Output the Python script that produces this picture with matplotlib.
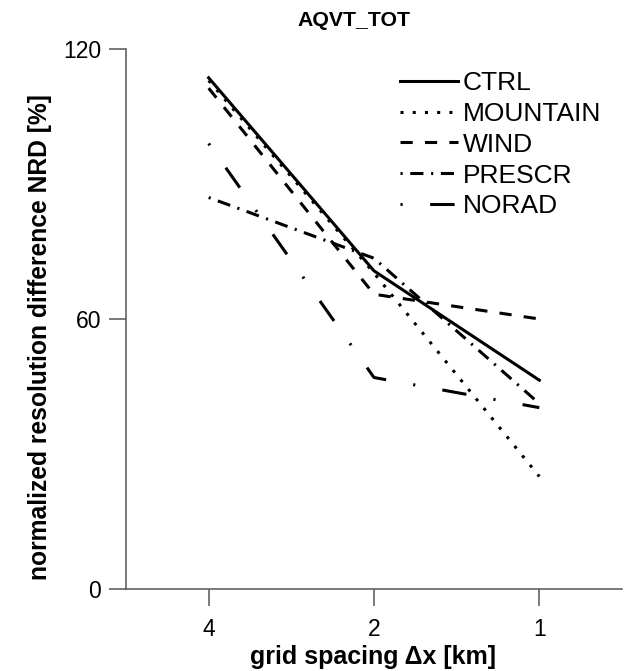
import matplotlib
matplotlib.use('Agg')
from matplotlib import pyplot as plt

plt.rcParams['font.family'] = ['Liberation Sans', 'DejaVu Sans']

grid_dx = [4, 2, 1]
tick_labels = ['4', '2', '1']
y_ticks = [0, 60, 120]

ctrl = [113.6, 70.7, 46.4]
mountain = [113.0, 70.2, 25.0]
wind = [111.3, 65.5, 60.0]
prescr = [87.0, 73.5, 41.2]
norad = [99.0, 47.0, 40.3]

series = [
    ('CTRL', ctrl, '-'),
    ('MOUNTAIN', mountain, (0, (1, 3))),
    ('WIND', wind, (0, (4, 4))),
    ('PRESCR', prescr, (0, (0.7, 2.5, 4.3, 2.5))),
    ('NORAD', norad, (0, (0.7, 9, 8, 9))),
]

fig = plt.figure(figsize=(6.27, 6.71), dpi=100)
ax = fig.add_axes([126 / 627, 1 - 589 / 671, 496 / 627, 540 / 671])

for name, vals, ls in series:
    ax.plot(grid_dx, vals, color='black', lw=2.2, linestyle=ls,
            dash_capstyle='butt', label=name)

ax.set_xscale('log', base=2)
ax.set_xlim(4 * 2 ** 0.5, 2 ** -0.5)
ax.set_ylim(0, 120)
ax.set_xticks(grid_dx)
ax.set_xticklabels(tick_labels)
ax.minorticks_off()
ax.set_yticks(y_ticks)

for side in ['top', 'right']:
    ax.spines[side].set_visible(False)
for side in ['left', 'bottom']:
    ax.spines[side].set_color('#555555')
    ax.spines[side].set_linewidth(1.1)
ax.tick_params(direction='out', length=12, width=1.1, color='#555555',
               labelsize=16.5, pad=6)
ax.tick_params(axis='x', pad=9)

fig.text(354 / 627, 1 - 20 / 671, 'AQVT_TOT', ha='center', va='center',
         fontsize=15.3, fontweight='bold')
fig.text(373 / 627, 1 - 657 / 671, 'grid spacing Δx [km]', ha='center',
         va='center', fontsize=18, fontweight='bold')
fig.text(40 / 627, 1 - 337 / 671, 'normalized resolution difference NRD [%]',
         ha='center', va='center', rotation=90, fontsize=17.7,
         fontweight='bold')

ax.legend(loc='upper left', bbox_to_anchor=(400 / 627, 1 - 71 / 671),
          bbox_transform=fig.transFigure, frameon=False, fontsize=19,
          handlelength=2.2, handletextpad=0.19, labelspacing=0.26,
          borderpad=0, borderaxespad=0)

fig.savefig('out.png', dpi=100)
